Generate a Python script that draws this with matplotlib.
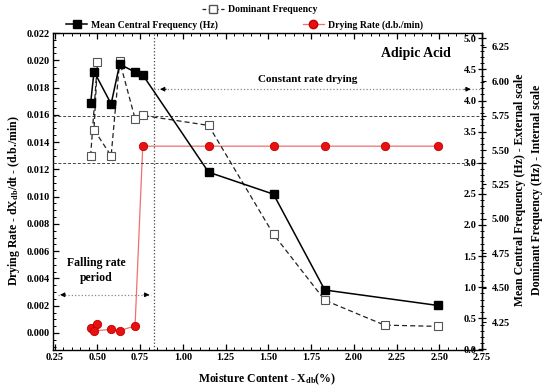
import numpy as np
import matplotlib.pyplot as plt
from matplotlib.ticker import MultipleLocator
from matplotlib.lines import Line2D

plt.rcParams['font.family'] = ['Liberation Serif', 'DejaVu Serif']
plt.rcParams['font.weight'] = 'bold'
plt.rcParams['axes.labelweight'] = 'bold'
plt.rcParams['mathtext.fontset'] = 'custom'
plt.rcParams['mathtext.rm'] = 'Liberation Serif:bold'
plt.rcParams['mathtext.it'] = 'Liberation Serif:bold'
plt.rcParams['mathtext.bf'] = 'Liberation Serif:bold'

# data
x_rate = [0.46, 0.50, 0.48, 0.58, 0.63, 0.72, 0.765, 1.15, 1.53, 1.83, 2.18, 2.49]
drying_rate = [0.00035, 0.00064, 0.00015, 0.00027, 0.00017, 0.00052,
               0.0137, 0.0137, 0.0137, 0.0137, 0.0137, 0.0137]

x_dom = [0.46, 0.50, 0.48, 0.58, 0.63, 0.72, 0.765, 1.15, 1.53, 1.83, 2.18, 2.49]
dominant = [3.11, 4.62, 3.53, 3.11, 4.63, 3.71, 3.76, 3.60, 1.85, 0.79, 0.39, 0.37]

x_mean = [0.46, 0.48, 0.58, 0.63, 0.72, 0.765, 1.15, 1.53, 1.83, 2.49]
mean_central = [5.84, 6.07, 5.835, 6.124, 6.066, 6.046, 5.339, 5.179, 4.483, 4.371]

x_split = 0.83
fs = 7.5

fig = plt.figure(figsize=(5.5, 3.92), dpi=100)
ax = fig.add_axes([0.0964, 0.1071, 0.78, 0.8087])
ax2 = ax.twinx()   # internal scale (dominant freq)
ax3 = ax.twinx()   # external scale (mean central freq)

# left axis
ax.set_xlim(0.24, 2.75)
ax.set_ylim(-0.00125, 0.022)
ax.xaxis.set_major_locator(MultipleLocator(0.25))
ax.xaxis.set_minor_locator(MultipleLocator(0.05))
ax.yaxis.set_major_locator(MultipleLocator(0.002))
ax.yaxis.set_minor_locator(MultipleLocator(0.0005))
ax.xaxis.set_major_formatter(plt.FormatStrFormatter('%.2f'))
ax.yaxis.set_major_formatter(plt.FormatStrFormatter('%.3f'))
ax.tick_params(axis='x', which='both', direction='in', top=True, labelsize=fs, pad=2)
ax.tick_params(axis='y', which='both', direction='in', labelsize=fs, pad=2.5)
ax.tick_params(which='major', length=4, width=0.9)
ax.tick_params(which='minor', length=2, width=0.7)
for s in ax.spines.values():
    s.set_linewidth(1.0)

# internal axis: ticks/labels on inside of right spine
ax2.spines['left'].set_position(('axes', 1.0))
ax2.yaxis.tick_left()
ax2.set_ylim(-0.01, 5.085)
ax2.yaxis.set_major_locator(MultipleLocator(0.5))
ax2.yaxis.set_minor_locator(MultipleLocator(0.1))
ax2.yaxis.set_major_formatter(plt.FormatStrFormatter('%.1f'))
ax2.tick_params(axis='y', which='major', direction='inout', length=6, width=0.9, labelsize=fs, pad=1)
ax2.tick_params(axis='y', which='minor', direction='inout', length=3, width=0.7)
for k in ['top', 'bottom', 'right']:
    ax2.spines[k].set_visible(False)

# external axis
ax3.set_ylim(4.047, 6.35)
ax3.yaxis.set_major_locator(MultipleLocator(0.25))
ax3.yaxis.set_major_formatter(plt.FormatStrFormatter('%.2f'))
ax3.tick_params(axis='y', direction='out', length=3, width=0.8, labelsize=fs, pad=4)
for k in ['top', 'bottom', 'left']:
    ax3.spines[k].set_visible(False)

# reference lines
ax2.axhline(3.0, color='#444444', ls=(0, (3, 2)), lw=0.7, zorder=1)
ax2.axhline(3.75, color='#444444', ls=(0, (3, 2)), lw=0.7, zorder=1)
ax.axvline(x_split, color='#444444', ls=':', lw=0.9, zorder=1)

# series
ax.plot(x_rate, drying_rate, color='#f07070', lw=0.9, marker='o', ms=6,
        mfc='#e81010', mec='#c00000', mew=0.6, zorder=5)
ax2.plot(x_dom, dominant, color='#222222', ls=(0, (4, 2.5)), lw=0.9, marker='s', ms=5.5,
         mfc='white', mec='#555555', mew=0.8, zorder=4)
ax3.plot(x_mean, mean_central, color='black', lw=1.1, marker='s', ms=5.5,
         mfc='black', mec='black', zorder=6)

# constant rate arrow
y_c = 0.01788
ax.plot([x_split, 2.75], [y_c, y_c], color='#888888', ls=':', lw=0.9)
ax.annotate('', xy=(x_split + 0.02, y_c), xytext=(x_split + 0.09, y_c),
            arrowprops=dict(arrowstyle='-|>', color='black', lw=0.6, mutation_scale=7))
ax.annotate('', xy=(2.7, y_c), xytext=(2.63, y_c),
            arrowprops=dict(arrowstyle='-|>', color='black', lw=0.6, mutation_scale=7))
ax.text(1.73, y_c + 0.00035, 'Constant rate drying', ha='center', va='bottom', fontsize=8)

# falling rate arrow
y_f = 0.0028
ax.plot([0.27, 0.815], [y_f, y_f], color='#888888', ls=':', lw=0.9)
ax.annotate('', xy=(0.265, y_f), xytext=(0.33, y_f),
            arrowprops=dict(arrowstyle='-|>', color='black', lw=0.6, mutation_scale=7))
ax.annotate('', xy=(0.82, y_f), xytext=(0.755, y_f),
            arrowprops=dict(arrowstyle='-|>', color='black', lw=0.6, mutation_scale=7))
ax.text(0.495, 0.0036, 'Falling rate\nperiod', ha='center', va='bottom', fontsize=8.5, linespacing=1.3)

ax.text(2.57, 0.0205, 'Adipic Acid', ha='right', va='center', fontsize=10)

# axis labels
ax.set_xlabel(r'Moisture Content - X$_{\mathrm{db}}$(%)', fontsize=8.5, labelpad=7)
ax.set_ylabel(r'Drying Rate - dX$_{\mathrm{db}}$/dt - (d.b./min)', fontsize=8.5)
ax.yaxis.set_label_coords(-0.072, 0.47)
fig.text(0.946, 0.515, 'Mean Central Frequency (Hz) - External scale', rotation=90,
         ha='center', va='center', fontsize=8.5, fontweight='bold')
fig.text(0.976, 0.515, 'Dominant Frequency (Hz) - Internal scale', rotation=90,
         ha='center', va='center', fontsize=8.5, fontweight='bold')

# legends
h_dom = Line2D([], [], color='#222222', ls=(0, (3, 2)), lw=0.9, marker='s', ms=5.5,
               mfc='white', mec='#555555')
h_mean = Line2D([], [], color='black', lw=1.1, marker='s', ms=5.5, mfc='black')
h_rate = Line2D([], [], color='#f07070', lw=0.9, marker='o', ms=6, mfc='#e81010', mec='#c00000')
kw = dict(frameon=False, fontsize=7, handlelength=2.2, handletextpad=0.4, borderpad=0,
          borderaxespad=0)
fig.legend([h_dom], ['Dominant Frequency'], loc='center left',
           bbox_to_anchor=(0.368, 0.975), **kw)
fig.legend([h_mean], ['Mean Central Frequency (Hz)'], loc='center left',
           bbox_to_anchor=(0.12, 0.937), **kw)
fig.legend([h_rate], ['Drying Rate (d.b./min)'], loc='center left',
           bbox_to_anchor=(0.55, 0.937), **kw)

fig.savefig('out.png', dpi=100)
